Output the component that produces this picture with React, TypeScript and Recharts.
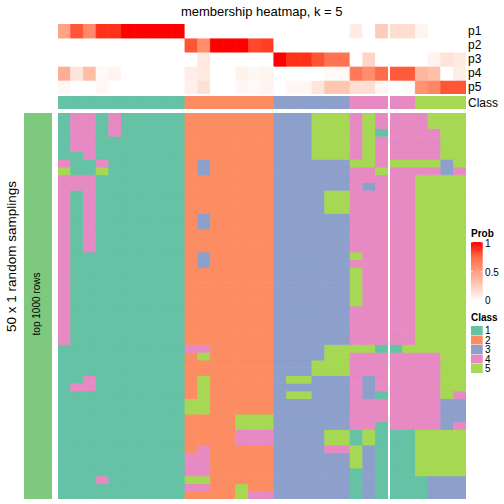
import { Bar, BarChart, Cell, XAxis, YAxis } from "recharts"

// column order of the heatmap; the split falls after column 26
const columnClass = [1, 1, 1, 1, 1, 1, 1, 1, 1, 1, 2, 2, 2, 2, 2, 2, 2, 3, 3, 3, 3, 3, 3, 4, 4, 4, 4, 4, 5, 5, 5, 5]

// membership probabilities per column
const p1 = [0.48, 0.82, 0.6, 0.93, 0.93, 1, 1, 1, 1, 1, 0, 0, 0, 0, 0, 0, 0, 0, 0, 0, 0, 0, 0, 0.1, 0, 0.27, 0.18, 0.18, 0.06, 0, 0, 0]
const p2 = [0, 0, 0, 0, 0, 0, 0, 0, 0, 0, 0.82, 0.58, 1, 1, 1, 0.87, 0.9, 0, 0, 0, 0, 0, 0, 0, 0, 0, 0, 0, 0, 0, 0, 0]
const p3 = [0, 0, 0, 0, 0, 0, 0, 0, 0, 0, 0, 0.12, 0, 0, 0, 0, 0, 1, 0.93, 0.93, 0.83, 0.7, 0.7, 0, 0.22, 0, 0, 0, 0, 0.06, 0.15, 0.11]
const p4 = [0.42, 0.13, 0.35, 0.03, 0.06, 0, 0, 0, 0, 0, 0.09, 0.11, 0, 0, 0.07, 0.04, 0.06, 0, 0, 0, 0, 0.03, 0.03, 0.68, 0.58, 0.73, 0.8, 0.8, 0.38, 0.33, 0, 0.09]
const p5 = [0.04, 0, 0, 0.04, 0, 0, 0, 0, 0, 0, 0.08, 0.16, 0, 0, 0.04, 0.03, 0.06, 0, 0.04, 0.04, 0.13, 0.3, 0.3, 0.17, 0.17, 0.05, 0, 0.02, 0.56, 0.62, 0.82, 0.82]
const probLabels = ["p1", "p2", "p3", "p4", "p5"]

// class assigned in each of the 50 samplings (one string per row, one digit per column)
const samplingRows = [
  "1441411111 2222222 333555 45444 4555",
  "1441411111 2222222 333555 45444 4555",
  "1441411111 2222222 333555 45144 4455",
  "1441111111 2222222 333555 45444 4455",
  "1441111111 2222222 333555 45444 4455",
  "1141111111 2222222 333555 45444 4455",
  "4114111111 2322222 333333 55455 5535",
  "5115111111 2322222 333333 44544 4434",
  "4441111111 2222222 333333 44444 5555",
  "4441111111 2222222 333333 43444 5555",
  "4141111111 2222222 333355 44444 5555",
  "4141111111 2222222 333355 44444 5555",
  "4141111111 2222222 333355 44444 5555",
  "4141111111 2322222 333333 44444 5555",
  "4141111111 2322222 333333 44444 5555",
  "4141111111 2222222 333333 44444 5555",
  "4141111111 2222222 333333 44444 5555",
  "4141111111 2222222 333333 44444 5555",
  "4111111111 2322222 333333 54444 5555",
  "4111111111 2322222 333333 44444 5555",
  "4111111111 2222222 333333 54444 5555",
  "4111111111 2222222 333333 54444 5555",
  "4111111111 2222222 333333 54444 5555",
  "4111111111 2222222 333333 54444 5555",
  "4111111111 2222222 333333 54444 5555",
  "4111111111 2222222 333333 44444 5555",
  "4111111111 2222222 333333 44444 5555",
  "4111111111 2222222 333333 44444 5555",
  "4111111111 2222222 333333 44444 5555",
  "4111111111 2222222 333333 44444 5555",
  "1111111111 4422222 333355 55115 5555",
  "1111111111 2522222 333355 44444 4455",
  "1111111111 2222222 333555 44444 4455",
  "1111111111 2222222 333555 44444 4455",
  "1141111111 2522222 355333 43444 4455",
  "1441111111 2522222 333333 43444 4455",
  "1111111111 2522222 355333 43144 4454",
  "1111111111 5522222 333333 44444 4433",
  "1111111111 5522222 333333 44444 4433",
  "1111111111 2222555 333333 44444 4433",
  "1111111111 2222555 333333 44144 4434",
  "1111111111 2222444 333355 15111 5555",
  "1111111111 2222444 333355 15111 5555",
  "1111111111 2422222 333344 53111 5555",
  "1111111111 4422222 333333 53111 5555",
  "1111111111 4422222 333333 53111 5555",
  "1111111111 4422222 333333 13111 5555",
  "1114111111 5522222 333333 13111 1333",
  "1111111111 4422522 333333 13111 1333",
  "1111111111 2222544 333333 13111 1333",
]
const classLevels = [1, 2, 3, 4, 5]

const CLASS_COLORS: Record<number, string> = {
  1: "#66C2A5",
  2: "#FC8D62",
  3: "#8DA0CB",
  4: "#E78AC3",
  5: "#A6D854",
}
const FONT = "'Liberation Sans', Arial, Helvetica, sans-serif"

// white -> red, interpolated in LAB like colorRamp2
function probColor(v: number) {
  const L = 100 + (53.24 - 100) * v
  const a = 80.09 * v
  const b = 67.2 * v
  const fy = (L + 16) / 116
  const fx = fy + a / 500
  const fz = fy - b / 200
  const inv = (t: number) => (t > 6 / 29 ? t * t * t : 3 * (6 / 29) ** 2 * (t - 4 / 29))
  const X = 0.95047 * inv(fx)
  const Y = inv(fy)
  const Z = 1.08883 * inv(fz)
  const r = 3.2406 * X - 1.5372 * Y - 0.4986 * Z
  const g = -0.9689 * X + 1.8758 * Y + 0.0415 * Z
  const bl = 0.0557 * X - 0.204 * Y + 1.057 * Z
  const enc = (c: number) => {
    const x = Math.min(1, Math.max(0, c))
    const s = x <= 0.0031308 ? 12.92 * x : 1.055 * Math.pow(x, 1 / 2.4) - 0.055
    return Math.round(s * 255)
  }
  return `rgb(${enc(r)},${enc(g)},${enc(bl)})`
}

const probs = [p1, p2, p3, p4, p5]
const matrix = samplingRows.map((s) => s.replace(/ /g, "").split("").map(Number))

const COL_W = 12.7
const X0 = 58
const SPLIT = 26
const GAP = 1.5
const allCols = columnClass.map((_, i) => i)
const leftCols = allCols.slice(0, SPLIT)
const rightCols = allCols.slice(SPLIT)
const rightX = X0 + SPLIT * COL_W + GAP

interface GridProps {
  cols: number[]
  nRows: number
  fillFor: (r: number, c: number) => string
  left: number
  top: number
  height: number
}

function CellGrid({ cols, nRows, fillFor, left, top, height }: GridProps) {
  const rows = Array.from({ length: nRows }, (_, i) => i)
  const data = cols.map((c) => {
    const d: Record<string, number> = { col: c }
    rows.forEach((r) => {
      d["r" + r] = 1
    })
    return d
  })
  const width = cols.length * COL_W
  // the svg is inset by half a pixel so the seam-hiding strokes stay inside the block
  return (
    <div style={{ position: "absolute", left, top, width, height, overflow: "hidden" }}>
      <BarChart
        width={width}
        height={height}
        data={data}
        margin={{ top: 0, right: 0, bottom: 0, left: 0 }}
        barCategoryGap={0}
        barGap={0}
        barSize={COL_W - 0.01}
      >
        <XAxis dataKey="col" hide />
        <YAxis hide type="number" domain={[0, nRows]} allowDataOverflow />
        {[...rows].reverse().map((r) => (
          <Bar key={r} dataKey={"r" + r} stackId="grid" isAnimationActive={false}>
            {cols.map((c) => {
              const f = fillFor(r, c)
              return <Cell key={c} fill={f} stroke={f} strokeWidth={0.8} />
            })}
          </Bar>
        ))}
      </BarChart>
    </div>
  )
}

const probFill = (r: number, c: number) => probColor(probs[r][c])
const classFill = (_r: number, c: number) => CLASS_COLORS[columnClass[c]]
const sampleFill = (r: number, c: number) => CLASS_COLORS[matrix[r][c]]

export default function App() {
  const gradStops = [0, 0.25, 0.5, 0.75, 1]
  return (
    <div
      style={{
        position: "absolute",
        left: 0,
        top: 0,
        width: 504,
        height: 504,
        background: "#fff",
        fontFamily: FONT,
      }}
    >
      {/* membership rows */}
      <CellGrid cols={leftCols} nRows={5} fillFor={probFill} left={X0} top={24} height={70.3} />
      <CellGrid cols={rightCols} nRows={5} fillFor={probFill} left={rightX} top={24} height={70.3} />
      {/* class row */}
      <CellGrid cols={leftCols} nRows={1} fillFor={classFill} left={X0} top={96} height={13.3} />
      <CellGrid cols={rightCols} nRows={1} fillFor={classFill} left={rightX} top={96} height={13.3} />
      {/* samplings */}
      <CellGrid cols={leftCols} nRows={50} fillFor={sampleFill} left={X0} top={113} height={386} />
      <CellGrid cols={rightCols} nRows={50} fillFor={sampleFill} left={rightX} top={113} height={386} />

      <div style={{ position: "absolute", left: 24, top: 113, width: 27.5, height: 386, background: "#7FC97F" }} />

      <svg width={504} height={504} style={{ position: "absolute", left: 0, top: 0, pointerEvents: "none" }}>
        <defs>
          <linearGradient id="probGrad" x1="0" y1="1" x2="0" y2="0">
            {gradStops.map((s) => (
              <stop key={s} offset={s} stopColor={probColor(s)} />
            ))}
          </linearGradient>
        </defs>
        <g fontFamily={FONT} fill="#000">
          <text x={261.7} y={15.5} textAnchor="middle" fontSize={13}>
            membership heatmap, k = 5
          </text>
          {probLabels.map((lab, i) => (
            <text key={lab} x={468} y={24 + 14.06 * (i + 0.5) + 4.2} fontSize={12}>
              {lab}
            </text>
          ))}
          <text x={468} y={107} fontSize={12}>
            Class
          </text>
          <text transform="translate(15.8, 256.5) rotate(-90)" textAnchor="middle" fontSize={13.5}>
            50 x 1 random samplings
          </text>
          <text transform="translate(39.6, 304) rotate(-90)" textAnchor="middle" fontSize={10}>
            top 1000 rows
          </text>

          {/* Prob legend */}
          <text x={471} y={237.3} fontSize={10} fontWeight="bold">
            Prob
          </text>
          <rect x={471} y={242} width={11.7} height={59.4} fill="url(#probGrad)" />
          {[242, 271.7, 301.4].map((y) => (
            <g key={y} stroke="#fff" strokeWidth={0.8}>
              <line x1={471} x2={473} y1={y} y2={y} />
              <line x1={480.7} x2={482.7} y1={y} y2={y} />
            </g>
          ))}
          <text x={485} y={247.3} fontSize={10}>1</text>
          <text x={485} y={276} fontSize={10}>0.5</text>
          <text x={485} y={304} fontSize={10}>0</text>

          {/* Class legend */}
          <text x={471} y={320.7} fontSize={10} fontWeight="bold">
            Class
          </text>
          {classLevels.map((k, i) => (
            <g key={k}>
              <rect x={471} y={326 + i * 9.5} width={11.7} height={9} fill={CLASS_COLORS[k]} />
              <text x={485} y={334.3 + i * 9.5} fontSize={10}>
                {k}
              </text>
            </g>
          ))}
        </g>
      </svg>
    </div>
  )
}
